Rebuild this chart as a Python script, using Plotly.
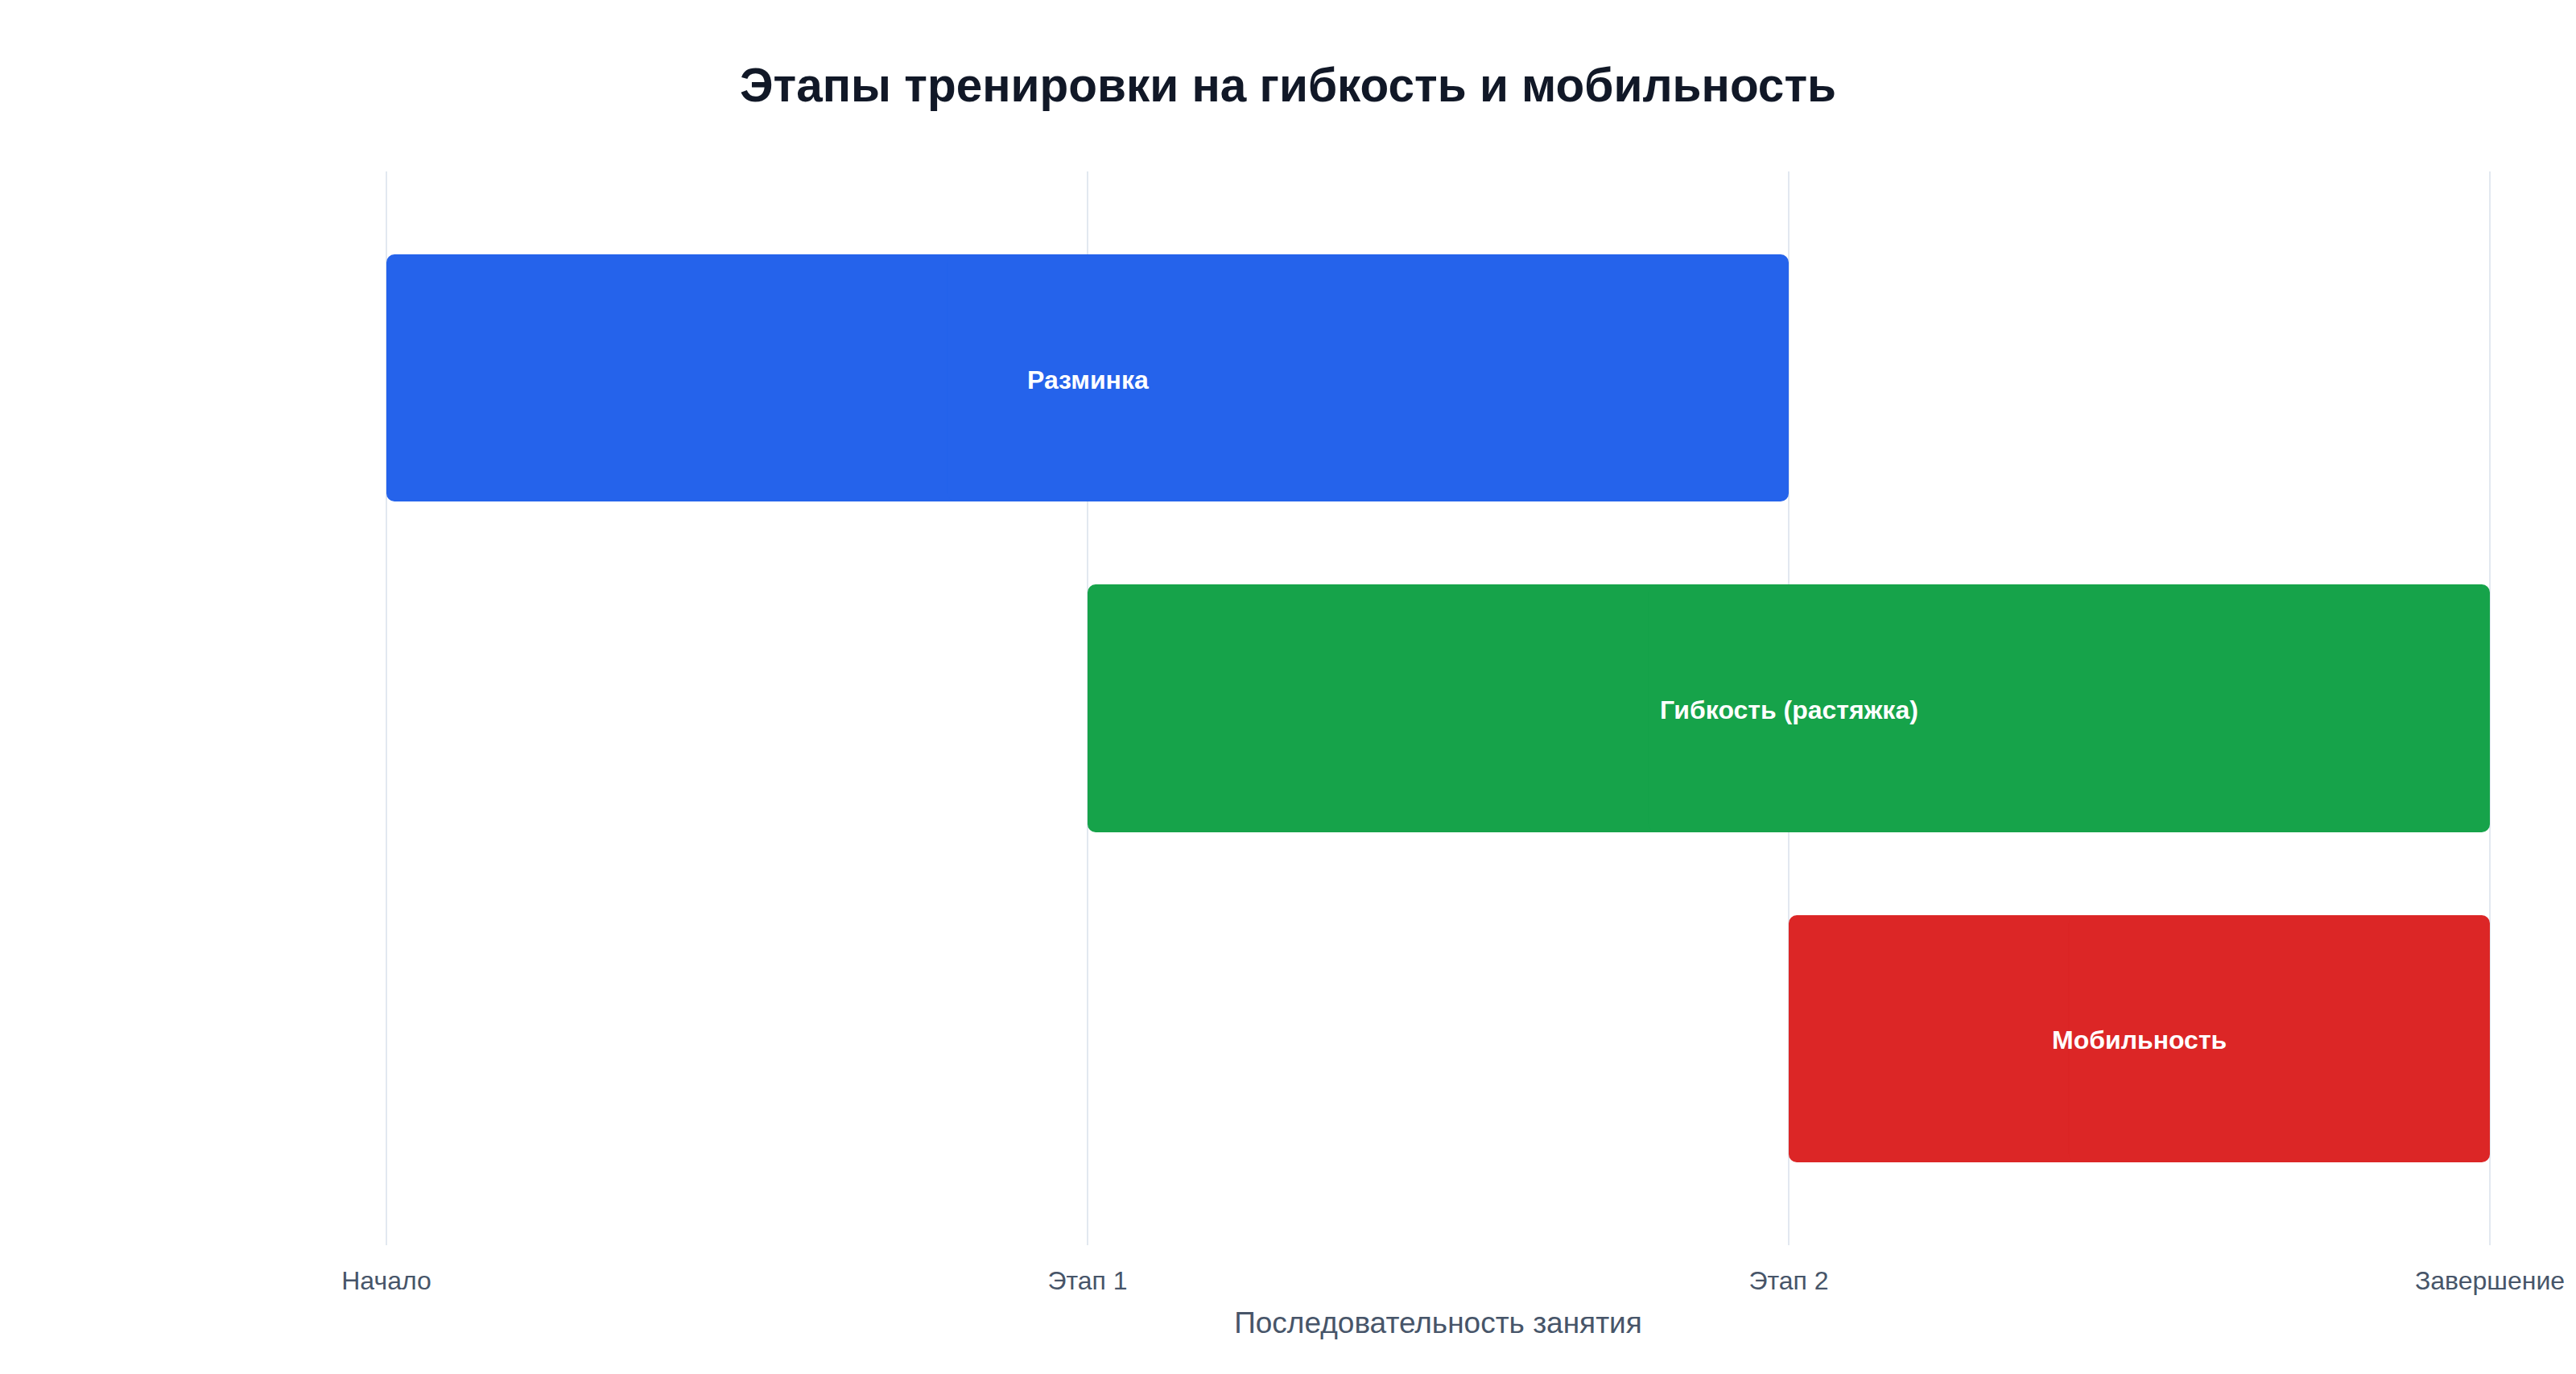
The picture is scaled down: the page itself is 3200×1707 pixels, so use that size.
import plotly.graph_objects as go

# stages of the session (top to bottom)
stages = ["Разминка", "Гибкость (растяжка)", "Мобильность"]
start = [0, 1, 2]
end = [2, 3, 3]
colors = ["#2563eb", "#16a34a", "#dc2626"]

tickVals = [0, 1, 2, 3]
tickLabels = ["Начало", "Этап 1", "Этап 2", "Завершение"]

FONT = "Liberation Sans, Arial, Helvetica, sans-serif"

fig = go.Figure()

# each bar is drawn as two overlapping halves so that both ends get rounded corners
lengths = [e - s for s, e in zip(start, end)]
part = [0.6 * l for l in lengths]

# a hairline of the same colour (plus zero bargap) makes plotly snap bar edges to whole pixels
barLine = dict(width=0.02, color=colors)

fig.add_trace(go.Bar(
    y=stages,
    x=[-p for p in part],
    base=[s + p for s, p in zip(start, part)],
    orientation="h",
    width=0.75,
    marker=dict(color=colors, line=barLine),
    hoverinfo="skip",
    showlegend=False,
))
fig.add_trace(go.Bar(
    y=stages,
    x=part,
    base=[e - p for e, p in zip(end, part)],
    orientation="h",
    width=0.75,
    marker=dict(color=colors, line=barLine),
    hoverinfo="skip",
    showlegend=False,
))

# labels in the middle of each bar
for name, s, e in zip(stages, start, end):
    fig.add_annotation(
        x=(s + e) / 2, y=name,
        text=name,
        showarrow=False,
        yshift=-2,
        font=dict(family=FONT, size=32, color="white", weight="bold"),
    )

fig.update_layout(
    width=3200,
    height=1707,
    barmode="overlay",
    bargap=0,
    bargroupgap=0,
    barcornerradius=10,
    plot_bgcolor="white",
    paper_bgcolor="white",
    margin=dict(l=478, r=105, t=213, b=160),
    title=dict(
        text="Этапы тренировки на гибкость и мобильность",
        x=0.5, xanchor="center",
        y=1 - 106 / 1707, yanchor="middle",
        font=dict(family=FONT, size=58.5, color="#111827", weight="bold"),
    ),
    font=dict(family=FONT),
    xaxis=dict(
        # tiny padding so the grid lines at the ends are not clipped
        range=[-0.0023, 3.0023],
        tickmode="array",
        tickvals=tickVals,
        ticktext=tickLabels,
        showgrid=True,
        gridcolor="#e2e8f0",
        gridwidth=2,
        zeroline=False,
        showline=False,
        ticks="",
        ticklabelstandoff=22,
        tickfont=dict(family=FONT, size=32, color="#475569"),
        title=dict(text="Последовательность занятия",
                   font=dict(family=FONT, size=37, color="#475569"),
                   standoff=22),
    ),
    yaxis=dict(
        range=[2.625, -0.625],
        showticklabels=False,
        showgrid=False,
        zeroline=False,
        showline=False,
        ticks="",
    ),
)

fig.write_html("out.html", config={"displayModeBar": False},
               post_script="document.body.style.margin='0';")
